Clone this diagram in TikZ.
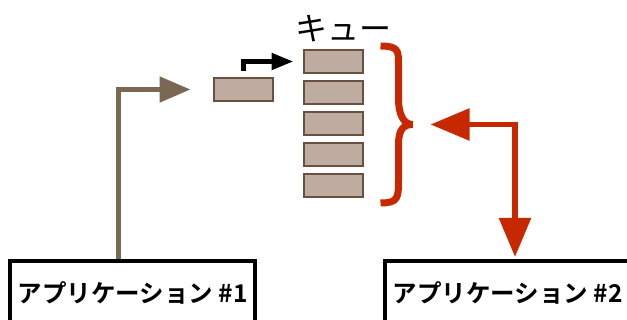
\documentclass[tikz,border=0pt]{standalone}
\usepackage{fontspec}
\usepackage{xcolor}
\usepackage{tikz}
\usetikzlibrary{positioning,arrows.meta,calc}
\newfontfamily\jp{Noto Sans CJK JP}[BoldFont={* Bold}]
\definecolor{qfill}{RGB}{190,172,160}
\definecolor{qborder}{RGB}{105,80,64}
\definecolor{brownline}{RGB}{122,104,84}
\definecolor{redline}{RGB}{200,40,0}
\tikzstyle{qitem}=[rectangle, draw=qborder, fill=qfill, line width=2pt,
  minimum width=59pt, minimum height=23pt, inner sep=0pt]
\tikzstyle{appbox}=[rectangle, draw=black, fill=white, line width=4pt,
  minimum width=245pt, minimum height=64pt, inner sep=2pt,
  font=\jp\bfseries\fontsize{24.5}{29}\selectfont]
\tikzstyle{feed}=[draw=brownline, line width=5pt,
  -{Triangle[length=31pt,width=25pt]}]
\tikzstyle{push}=[draw=black, line width=5pt,
  -{Triangle[length=22pt,width=16pt]}]
\tikzstyle{fetch}=[draw=redline, line width=5.5pt,
  {Triangle[length=39pt,width=31pt]}-{Triangle[length=39pt,width=31pt]}]
\tikzstyle{bracket}=[draw=redline, line width=7pt, line cap=butt, miter limit=4]

\begin{document}
\begin{tikzpicture}[x=1pt,y=-1pt,node distance=6pt]
    \useasboundingbox (0,0) rectangle (627,320);
    % queue and the incoming message
    \node (q1) [qitem] at (333,61.5) {};
    \node (q2) [qitem, below=of q1] {};
    \node (q3) [qitem, below=of q2] {};
    \node (q4) [qitem, below=of q3] {};
    \node (q5) [qitem, below=of q4] {};
    \node (qlabel) [above=3.5pt of q1, xshift=10pt,
          font=\jp\fontsize{32}{36}\selectfont] {キュー};
    \node (msg) [qitem] at (243,89.5) {};
    % applications
    \node (app1) [appbox] at (132.5,293) {アプリケーション \#1};
    \node (app2) [appbox] at (507.5,293) {アプリケーション \#2};
    % brace round the queue
    \coordinate (braceTop) at ([xshift=17pt,yshift=3pt]q1.north east);
    \coordinate (braceBot) at ([xshift=17pt,yshift=-5pt]q5.south east);
    \coordinate (braceTip) at ($(braceTop)!0.5!(braceBot)+(32,0)$);
    \draw[bracket] (braceTop) .. controls +(18,0) and +(0,-13) .. ++(18,18)
          -- ++(0,35) .. controls +(0,15) and +(-9,0) .. (braceTip)
          .. controls +(-9,0) and +(0,-15) .. ++(-14,20)
          -- ++(0,35) .. controls +(0,18) and +(18,0) .. (braceBot);
    % arrows
    \draw[feed, shorten >=22pt] ([xshift=-14.5pt]app1.north) |- (msg.west);
    \draw[push, shorten <=6pt, shorten >=9pt] (msg.north) |- (q1.west);
    \draw[fetch, shorten <=2pt, shorten >=18pt]
          ([xshift=7.5pt]app2.north) |- (braceTip);
\end{tikzpicture}
\end{document}
